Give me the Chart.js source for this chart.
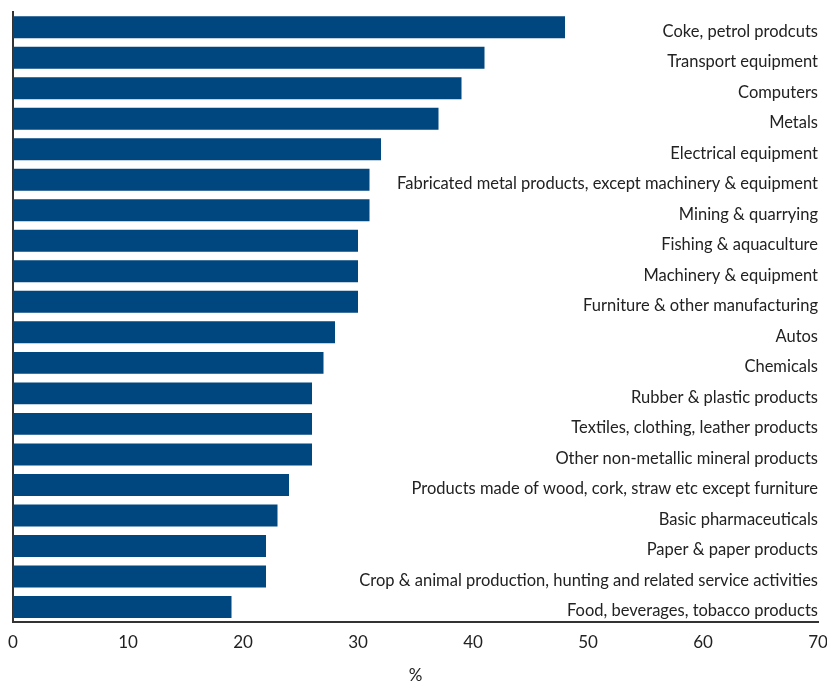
<!DOCTYPE html>
<html>
<head>
<meta charset="utf-8">
<script src="https://cdn.jsdelivr.net/npm/chart.js@4"></script>
<style>
  body { margin: 0; background: #fff; }
</style>
</head>
<body>
<canvas id="chartCanvas" width="827" height="684"></canvas>
<script>
// data
const categories = [
    'Coke, petrol prodcuts',
    'Transport equipment',
    'Computers',
    'Metals',
    'Electrical equipment',
    'Fabricated metal products, except machinery & equipment',
    'Mining & quarrying',
    'Fishing & aquaculture',
    'Machinery & equipment',
    'Furniture & other manufacturing',
    'Autos',
    'Chemicals',
    'Rubber & plastic products',
    'Textiles, clothing, leather products',
    'Other non-metallic mineral products',
    'Products made of wood, cork, straw etc except furniture',
    'Basic pharmaceuticals',
    'Paper & paper products',
    'Crop & animal production, hunting and related service activities',
    'Food, beverages, tobacco products'
];
const shares = [48, 41, 39, 37, 32, 31, 31, 30, 30, 30, 28, 27, 26, 26, 26, 24, 23, 22, 22, 19];
const xTicks = [0, 10, 20, 30, 40, 50, 60, 70];

const FONT = 'Lato, "Open Sans", sans-serif';

// labels sit inside the plot, right aligned
const barLabels = {
    id: 'barLabels',
    afterDatasetsDraw(chart) {
        const ctx = chart.ctx;
        const meta = chart.getDatasetMeta(0);
        ctx.save();
        ctx.font = '16.5px ' + FONT;
        ctx.fillStyle = '#222';
        ctx.textAlign = 'right';
        ctx.textBaseline = 'middle';
        meta.data.forEach((bar, i) => {
            ctx.fillText(categories[i], chart.chartArea.right, bar.y + 4);
        });
        ctx.restore();
    }
};

const ctx = document.getElementById('chartCanvas').getContext('2d');
new Chart(ctx, {
    type: 'bar',
    data: {
        labels: categories,
        datasets: [{
            data: shares,
            backgroundColor: '#00467f',
            barPercentage: 0.72,
            categoryPercentage: 1
        }]
    },
    options: {
        indexAxis: 'y',
        responsive: false,
        animation: false,
        layout: { padding: { left: 13, right: 0, top: 12, bottom: 0 } },
        plugins: {
            legend: { display: false },
            tooltip: { enabled: false }
        },
        scales: {
            x: {
                min: 0,
                max: 70,
                afterBuildTicks: axis => { axis.ticks = xTicks.map(v => ({ value: v })); },
                afterFit: axis => { axis.paddingRight = 9; axis.paddingLeft = 0; },
                grid: { display: false, drawTicks: false },
                border: { color: '#333', width: 2 },
                ticks: { color: '#222', font: { family: FONT, size: 17 }, padding: 10 },
                title: { display: true, text: '%', color: '#222', font: { family: FONT, size: 17 }, padding: { top: 3, bottom: -2 } }
            },
            y: {
                afterFit: axis => { axis.width = 0; },
                ticks: { display: false },
                grid: { display: false, drawTicks: false },
                border: { color: '#333', width: 2 }
            }
        }
    },
    plugins: [barLabels]
});
</script>
</body>
</html>
